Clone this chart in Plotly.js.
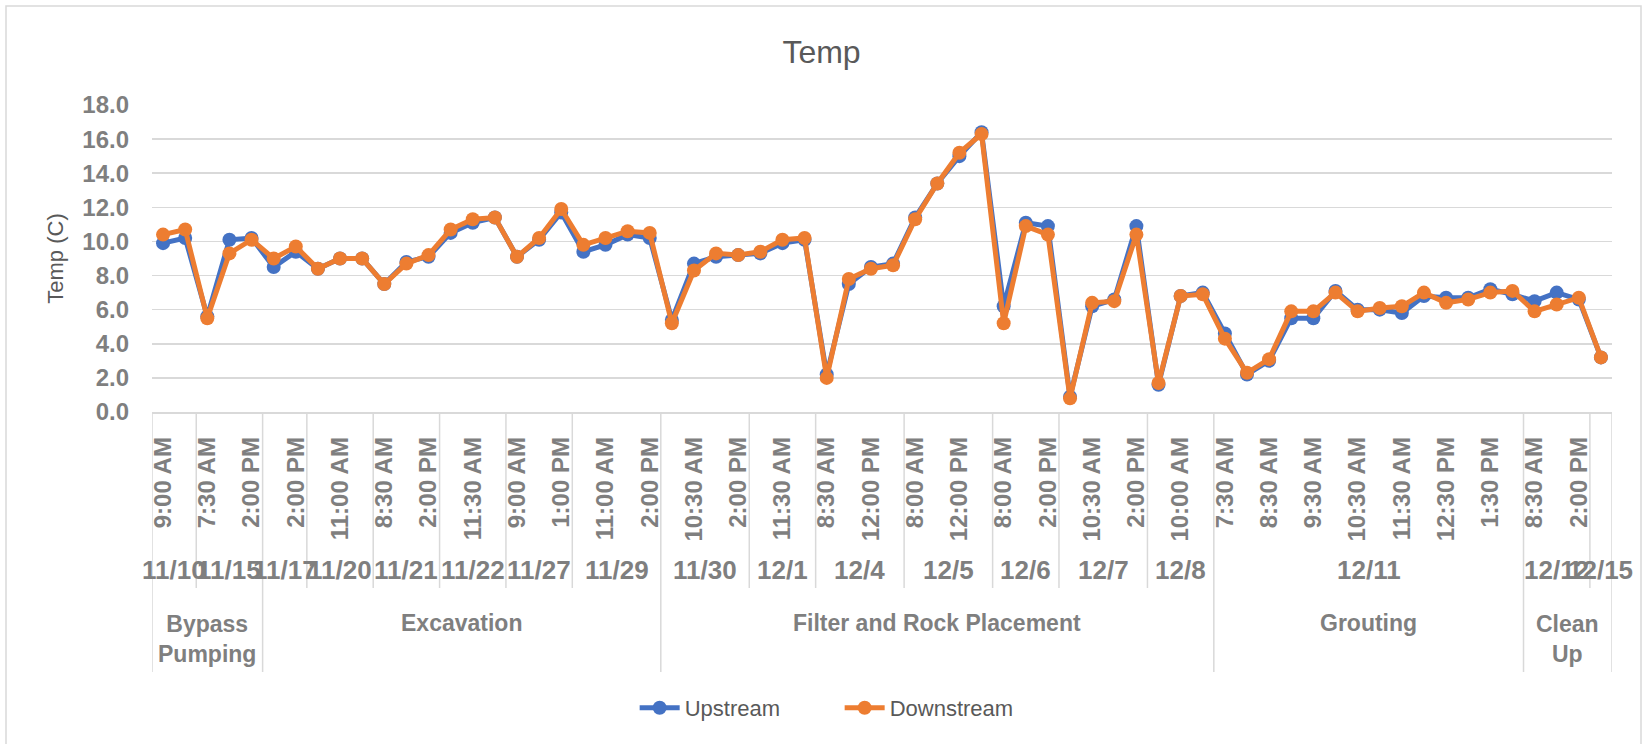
<!DOCTYPE html>
<html>
<head>
<meta charset="utf-8">
<script src="https://cdn.plot.ly/plotly-3.0.1.min.js"></script>
<style>
  html, body { margin: 0; padding: 0; background: #fff; }
  #graph { width: 1643px; height: 744px; }
</style>
</head>
<body>
<div id="graph"></div>
<script>
// phases -> dates -> readings (Excel style multi-level category axis)
var phases = ['Bypass<br>Pumping', 'Excavation', 'Filter and Rock Placement', 'Grouting', 'Clean<br>Up'];
var datesPerPhase = [2, 6, 7, 1, 2];
var dates = ['11/10', '11/15', '11/17', '11/20', '11/21', '11/22', '11/27', '11/29',
             '11/30', '12/1', '12/4', '12/5', '12/6', '12/7', '12/8', '12/11', '12/12', '12/15'];
var readingsPerDate = [2, 3, 2, 3, 3, 3, 3, 4, 4, 3, 4, 4, 3, 4, 3, 14, 3, 1];

// only every other time label is shown on the chart
var timeLabels = ['9:00 AM', '7:30 AM', '2:00 PM', '2:00 PM', '11:00 AM', '8:30 AM', '2:00 PM',
                  '11:30 AM', '9:00 AM', '1:00 PM', '11:00 AM', '2:00 PM', '10:30 AM', '2:00 PM',
                  '11:30 AM', '8:30 AM', '12:00 PM', '8:00 AM', '12:00 PM', '8:00 AM', '2:00 PM',
                  '10:30 AM', '2:00 PM', '10:00 AM', '7:30 AM', '8:30 AM', '9:30 AM', '10:30 AM',
                  '11:30 AM', '12:30 PM', '1:30 PM', '8:30 AM', '2:00 PM'];

var upstream = [9.9, 10.2, 5.6, 10.1, 10.2, 8.5, 9.4, 8.4, 9.0, 9.0, 7.5, 8.8, 9.1, 10.5, 11.1, 11.4,
                9.1, 10.1, 11.7, 9.4, 9.8, 10.4, 10.2, 5.4, 8.7, 9.1, 9.2, 9.3, 9.9, 10.1, 2.2, 7.5,
                8.5, 8.7, 11.4, 13.4, 15.0, 16.4, 6.2, 11.1, 10.9, 0.9, 6.2, 6.6, 10.9, 1.6, 6.8, 7.0,
                4.6, 2.2, 3.0, 5.5, 5.5, 7.1, 6.0, 6.0, 5.8, 6.8, 6.7, 6.7, 7.2, 6.9, 6.5, 7.0, 6.6, 3.2];
var downstream = [10.4, 10.7, 5.5, 9.3, 10.1, 9.0, 9.7, 8.4, 9.0, 9.0, 7.5, 8.7, 9.2, 10.7, 11.3, 11.4,
                  9.1, 10.2, 11.9, 9.8, 10.2, 10.6, 10.5, 5.2, 8.3, 9.3, 9.2, 9.4, 10.1, 10.2, 2.0, 7.8,
                  8.4, 8.6, 11.3, 13.4, 15.2, 16.3, 5.2, 10.9, 10.4, 0.8, 6.4, 6.5, 10.4, 1.7, 6.8, 6.9,
                  4.3, 2.3, 3.1, 5.9, 5.9, 7.0, 5.9, 6.1, 6.2, 7.0, 6.4, 6.6, 7.0, 7.1, 5.9, 6.3, 6.7, 3.2];

var gray = '#7f7f7f';
var dark = '#595959';
var lineGray = '#d9d9d9';
var fam = 'Liberation Sans, Arial, sans-serif';

// plot box in pixels, used to place the axis labels below the plot
var W = 1643, H = 744;
var mL = 152, mR = 31, mT = 105, mB = 332;
var plotH = H - mT - mB;
var plotBottom = H - mB;
function py(pix) { return (plotBottom - pix) / plotH; }

var x = [];
for (var i = 0; i < upstream.length; i++) x.push(i);

var tickvals = [];
for (var i = 0; i < timeLabels.length; i++) tickvals.push(2 * i);

var annotations = [];
var shapes = [];

function vline(xv, bottomPix) {
  shapes.push({
    type: 'line', xref: 'x', yref: 'paper',
    x0: xv, x1: xv, y0: 0, y1: py(bottomPix),
    line: {color: lineGray, width: 1.5}
  });
}

// date row
var start = 0;
var dateStarts = [];
for (var d = 0; d < dates.length; d++) {
  dateStarts.push(start);
  var n = readingsPerDate[d];
  annotations.push({
    x: start - 0.5 + n / 2, xref: 'x', y: py(570), yref: 'paper',
    text: dates[d], showarrow: false, yanchor: 'middle',
    font: {family: fam, size: 26, color: gray, weight: 'bold'}
  });
  start += n;
}
dateStarts.push(start);

// phase row
var di = 0;
var phaseBounds = [];
for (var p = 0; p < phases.length; p++) {
  var s = dateStarts[di];
  var e = dateStarts[di + datesPerPhase[p]];
  phaseBounds.push(di);
  var twoLine = phases[p].indexOf('<br>') >= 0;
  annotations.push({
    x: s - 0.5 + (e - s) / 2, xref: 'x', y: py(twoLine ? 639 : 623), yref: 'paper',
    text: phases[p], showarrow: false, yanchor: 'middle',
    font: {family: fam, size: 23, color: gray, weight: 'bold'}
  });
  di += datesPerPhase[p];
}
phaseBounds.push(dates.length);

for (var d = 0; d <= dates.length; d++) {
  var long = phaseBounds.indexOf(d) >= 0;
  vline(dateStarts[d] - 0.5, long ? 672 : 588);
}

// chart area border
shapes.push({
  type: 'rect', xref: 'paper', yref: 'paper', layer: 'below',
  x0: (6 - mL) / (W - mL - mR), x1: (1641 - mL) / (W - mL - mR),
  y0: py(760), y1: py(6),
  line: {color: lineGray, width: 1.5}
});

var trace1 = {
  x: x, y: upstream, name: 'Upstream', type: 'scatter', mode: 'lines+markers',
  line: {color: '#4472C4', width: 5},
  marker: {color: '#4472C4', size: 14}
};
var trace2 = {
  x: x, y: downstream, name: 'Downstream', type: 'scatter', mode: 'lines+markers',
  line: {color: '#ED7D31', width: 5},
  marker: {color: '#ED7D31', size: 14}
};

var layout = {
  width: W, height: H,
  margin: {l: mL, r: mR, t: mT, b: mB},
  paper_bgcolor: '#fff', plot_bgcolor: '#fff',
  title: {
    text: 'Temp', xref: 'container', x: 0.5, yref: 'container', y: 1 - 52 / H,
    yanchor: 'middle', font: {family: fam, size: 32, color: dark}
  },
  showlegend: true,
  legend: {
    orientation: 'h', x: 0.471, xanchor: 'center', y: py(708), yanchor: 'middle',
    font: {family: fam, size: 22, color: dark}, itemwidth: 40,
    entrywidth: 150, entrywidthmode: 'pixels'
  },
  xaxis: {
    range: [-0.5, upstream.length - 0.5],
    tickmode: 'array', tickvals: tickvals, ticktext: timeLabels, tickangle: -90,
    tickfont: {family: fam, size: 24, color: gray, weight: 'bold'},
    ticklabelstandoff: 14,
    showgrid: false, zeroline: false, showline: true, linecolor: lineGray, linewidth: 1.5,
    ticks: '', fixedrange: true
  },
  yaxis: {
    range: [0, 18], dtick: 2, tickformat: '.1f',
    tickfont: {family: fam, size: 24, color: gray, weight: 'bold'},
    ticklabelstandoff: 22,
    title: {text: 'Temp (C)', font: {family: fam, size: 22, color: dark}, standoff: 12},
    gridcolor: lineGray, gridwidth: 1.5, zeroline: false, showline: false,
    ticks: '', fixedrange: true
  },
  annotations: annotations,
  shapes: shapes,
  hovermode: false
};

Plotly.newPlot('graph', [trace1, trace2], layout, {displayModeBar: false, staticPlot: true});
</script>
</body>
</html>
